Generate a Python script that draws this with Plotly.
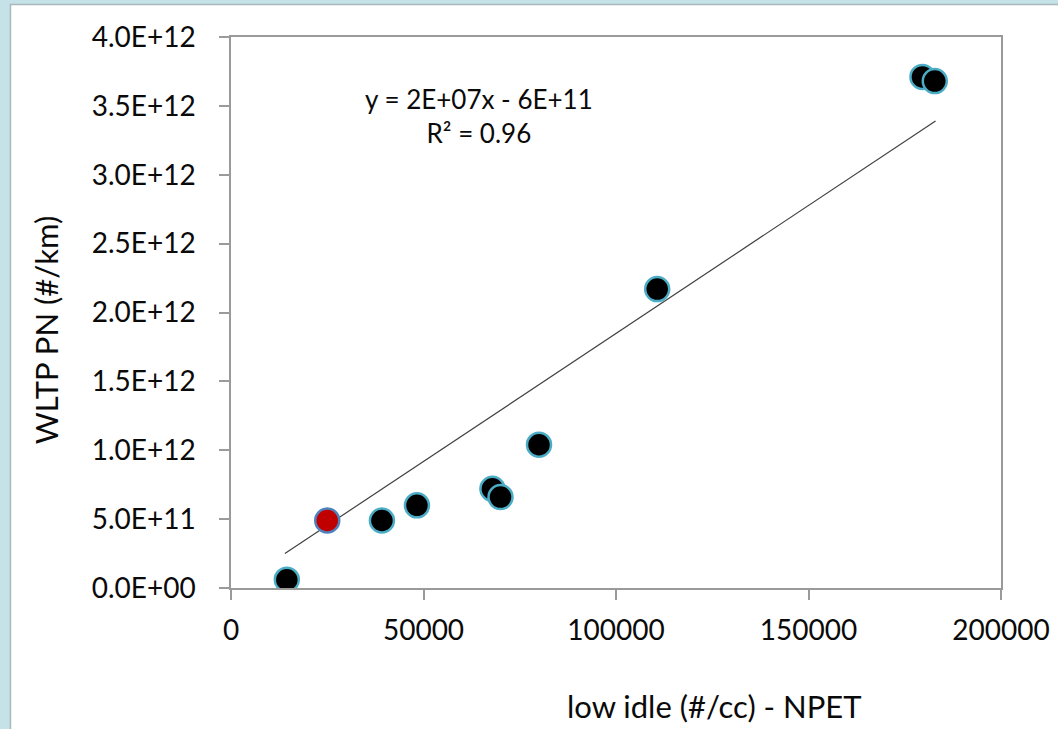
import plotly.graph_objects as go

# Measured vehicles: low-idle NPET particle concentration vs WLTP particle number
idle_npet = [14500, 39200, 48300, 67900, 70000, 80000, 110700, 179600, 182800]
wltp_pn = [0.06e12, 0.49e12, 0.60e12, 0.72e12, 0.66e12, 1.04e12, 2.17e12, 3.71e12, 3.68e12]

# Highlighted vehicle
hl_npet = [25000]
hl_pn = [0.49e12]

# Linear trend line end points
trend_x = [14000, 183000]
trend_y = [0.25e12, 3.39e12]

trend_label = "y = 2E+07x - 6E+11<br>R² = 0.96"

x_ticks = [0, 50000, 100000, 150000, 200000]
x_ticktext = ["0", "50000", "100000", "150000", "200000"]
y_ticks = [0, 0.5e12, 1.0e12, 1.5e12, 2.0e12, 2.5e12, 3.0e12, 3.5e12, 4.0e12]
y_ticktext = ["0.0E+00", "5.0E+11", "1.0E+12", "1.5E+12", "2.0E+12",
              "2.5E+12", "3.0E+12", "3.5E+12", "4.0E+12"]

FONT = "Lato, 'Open Sans', sans-serif"
AXIS_GREY = "#9a9a9a"
TEXT = "#0a0a0a"

fig = go.Figure()

fig.add_trace(go.Scatter(
    x=trend_x, y=trend_y, mode="lines",
    line=dict(color="#404040", width=1.2),
    hoverinfo="skip", showlegend=False,
))

fig.add_trace(go.Scatter(
    x=idle_npet, y=wltp_pn, mode="markers",
    marker=dict(size=24, color="#000000", line=dict(color="#4bacc6", width=2.5)),
    showlegend=False,
))

fig.add_trace(go.Scatter(
    x=hl_npet, y=hl_pn, mode="markers",
    marker=dict(size=24, color="#c00000", line=dict(color="#4f81bd", width=2.5)),
    showlegend=False,
))

axis_common = dict(
    showgrid=False, zeroline=False, automargin=False,
    showline=True, linecolor=AXIS_GREY, linewidth=1.5, mirror=True,
    ticks="outside", ticklen=10, tickcolor=AXIS_GREY, tickwidth=1.5,
    tickfont=dict(family=FONT, size=28, color=TEXT),
)

fig.update_xaxes(range=[0, 200000], tickvals=x_ticks, ticktext=x_ticktext,
                 ticklabelstandoff=7, **axis_common)
fig.update_yaxes(range=[0, 4e12], tickvals=y_ticks, ticktext=y_ticktext,
                 ticklabelstandoff=18, **axis_common)

# White chart panel on the light-blue page, with a thin grey edge
fig.add_shape(type="rect", xref="paper", yref="paper",
              x0=-0.2864, x1=1.3, y0=-0.5, y1=1.059,
              fillcolor="white", line=dict(color="#a8b8bc", width=1.5),
              layer="below")

fig.add_annotation(x=64400, y=3.43e12, xref="x", yref="y",
                   text=trend_label, showarrow=False, align="center",
                   font=dict(family=FONT, size=26, color=TEXT))

fig.add_annotation(x=0.628, y=-0.215, xref="paper", yref="paper",
                   text="low idle (#/cc) - NPET", showarrow=False,
                   xanchor="center", yanchor="middle",
                   font=dict(family=FONT, size=31, color=TEXT))

fig.add_annotation(x=-0.24, y=0.468, xref="paper", yref="paper",
                   text="WLTP PN (#/km)", textangle=-90, showarrow=False,
                   xanchor="center", yanchor="middle",
                   font=dict(family=FONT, size=31, color=TEXT))

fig.update_layout(
    width=1058, height=729,
    margin=dict(l=231, r=57, t=37, b=141),
    paper_bgcolor="#c5e2e8",
    plot_bgcolor="white",
    showlegend=False,
)

fig.write_html("out.html")
